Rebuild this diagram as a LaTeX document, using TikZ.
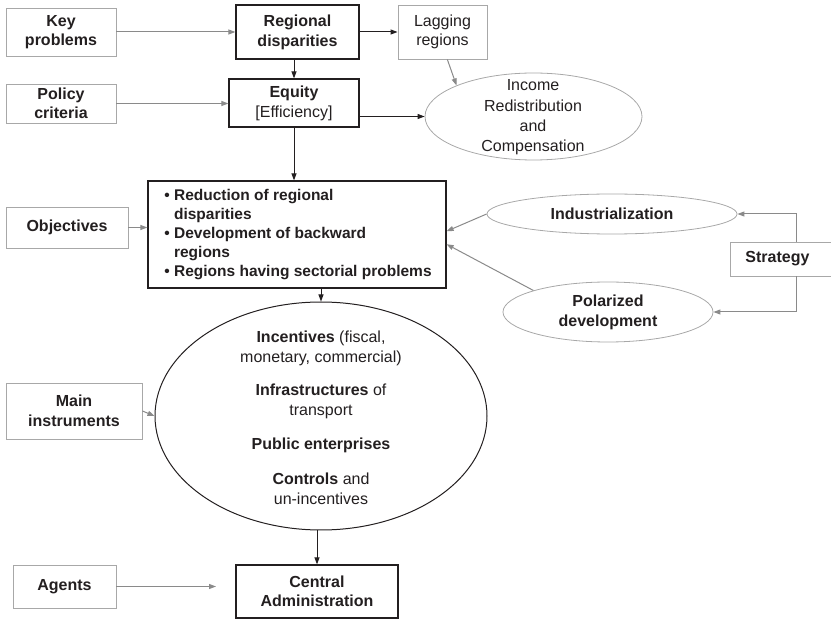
\documentclass[tikz,border=0pt]{standalone}
\usepackage{fontspec}
\setmainfont{Liberation Sans}
\usetikzlibrary{arrows.meta,calc,shapes.geometric}
\definecolor{txt}{HTML}{231F20}
\definecolor{gline}{HTML}{8A8A8A}
\definecolor{gboxc}{HTML}{A8A8A8}
\begin{document}
\begin{tikzpicture}[x=1pt,y=-1pt,
 every node/.style={text=txt,font=\fontsize{16}{19.5}\selectfont,inner sep=0pt,align=center},
 gbox/.style={draw=gboxc,line width=0.9pt,rectangle},
 bbox/.style={draw=txt,line width=1.2pt,rectangle},
 gell/.style={draw=gboxc,line width=0.8pt,ellipse},
 bell/.style={draw=txt,line width=1pt,ellipse},
 garr/.style={draw=gline,line width=1pt,-{Triangle[length=7pt,width=5pt]}},
 barr/.style={draw=txt,line width=1pt,-{Triangle[length=7pt,width=5pt]}},
]
\useasboundingbox (0,0) rectangle (831,620);

% top row
\node[gbox,minimum width=110pt,minimum height=48pt,font=\fontsize{16}{19.5}\selectfont\bfseries] (key) at (61,32) {Key\\problems};
\node[bbox,minimum width=123pt,minimum height=54pt,font=\fontsize{16}{20}\selectfont\bfseries] (regional) at (297.5,32) {Regional\\disparities};
\node[gbox,minimum width=89pt,minimum height=54pt] (lagging) at (442.5,32) {Lagging\\regions};

% second row
\node[gbox,minimum width=110pt,minimum height=39pt,font=\fontsize{16}{19.5}\selectfont\bfseries] (policy) at (61,103.5) {Policy\\criteria};
\node[bbox,minimum width=130pt,minimum height=48pt,font=\fontsize{16}{20}\selectfont] (equity) at (294,103) {\textbf{Equity}\\{[}Efficiency{]}};
\node[gell,minimum width=217pt,minimum height=87pt] (income) at (533.5,116.5) {};
\node[font=\fontsize{16}{20.3}\selectfont] (incometext) at (533,117.5) {Income\\Redistribution\\and\\Compensation};

% objectives row
\node[gbox,minimum width=122pt,minimum height=41pt,font=\fontsize{16}{19.5}\selectfont\bfseries] (objectives) at (67,227.5) {Objectives};
\node[bbox,minimum width=298pt,minimum height=107pt,align=left,font=\fontsize{15.5}{18.8}\selectfont\bfseries] (main) at (297,234.5)
 {\hspace*{2pt}\textbullet\ Reduction of regional\\
  \hspace*{2pt}\hphantom{\textbullet\ }disparities\\
  \hspace*{2pt}\textbullet\ Development of backward\\
  \hspace*{2pt}\hphantom{\textbullet\ }regions\\
  \hspace*{2pt}\textbullet\ Regions having sectorial problems};
\node[gell,minimum width=250pt,minimum height=40pt,font=\fontsize{16}{19.5}\selectfont\bfseries] (indus) at (612,214) {Industrialization};
\node[gell,minimum width=210pt,minimum height=60pt,font=\fontsize{16}{20}\selectfont\bfseries] (polar) at (608,312) {Polarized\\development};
\node[gbox,anchor=west,minimum height=34pt,text width=80pt,inner xsep=15pt,align=left,font=\fontsize{16}{19.5}\selectfont\bfseries] (strategy) at (730,259) {Strategy};
\coordinate (sx) at (796,259);

% instruments
\node[bell,minimum width=332pt,minimum height=228pt] (instr) at (321,416) {};
\node[font=\fontsize{16}{20}\selectfont] (instrtext) at (321,418)
 {\textbf{Incentives} (fiscal,\\monetary, commercial)\\[13pt]
  \textbf{Infrastructures} of\\transport\\[14pt]
  \textbf{Public enterprises}\\[15pt]
  \textbf{Controls} and\\un-incentives};
\node[gbox,minimum width=136pt,minimum height=56pt,font=\fontsize{16}{19.5}\selectfont\bfseries] (mainin) at (74,411) {Main\\instruments};

% agents
\node[gbox,minimum width=103pt,minimum height=43pt,font=\fontsize{16}{19.5}\selectfont\bfseries] (agents) at (64.5,586.5) {Agents};
\node[bbox,minimum width=162pt,minimum height=53pt,font=\fontsize{16}{19.5}\selectfont\bfseries] (central) at (317,591.5) {Central\\Administration};
\coordinate (agtip) at (216,586.5);

% connectors
\draw[garr] (key.east) -- (key.east -| regional.west);
\draw[barr] (regional.east) -- (lagging.west);
\draw[barr] (regional.south -| equity.north) -- (equity.north);
\draw[garr] (policy.east) -- (policy.east -| equity.west);
\draw[barr] (income.west -| equity.east) -- (income.west);
\draw[garr] (lagging.-80) -- (income.north west);
\draw[barr] (equity.south) -- (equity.south |- main.north);
\draw[garr] (objectives.east) -- (objectives.east -| main.west);
\draw[garr] (indus.west) -- ($(main.north east)!0.47!(main.south east)$);
\draw[garr] (polar.north west) -- ($(main.north east)!0.59!(main.south east)$);
\draw[garr] (sx |- strategy.north) |- (indus.east);
\draw[garr] (sx |- strategy.south) |- (polar.east);
\draw[barr] (instr.north |- main.south) -- (instr.north);
\draw[garr] (mainin.east) -- (instr.west);
\draw[barr] (central.north |- instr.south) -- (central.north);
\draw[garr] (agents.east) -- (agtip);
\end{tikzpicture}
\end{document}
